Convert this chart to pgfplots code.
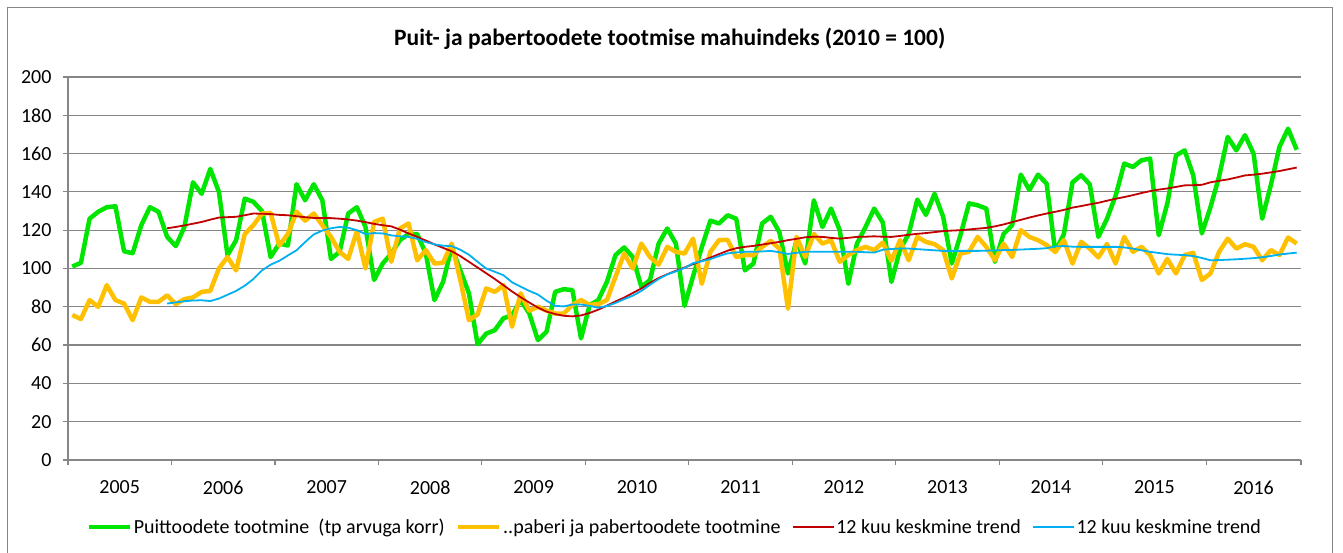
\documentclass[border=0pt]{standalone}
\usepackage{fontspec}
\setmainfont{Carlito}
\usepackage{pgfplots}
\usepackage{pgfplotstable}
\pgfplotsset{compat=1.18}
\definecolor{cgreen}{RGB}{0,230,0}
\definecolor{corange}{RGB}{255,192,0}
\definecolor{cred}{RGB}{192,0,0}
\definecolor{cblue}{RGB}{0,176,240}
\definecolor{cgrid}{RGB}{134,134,134}

\pgfplotstableread{
i green orange
0 101 75.7
1 103 73.6
2 126 83.5
3 129.6 80
4 132 91.3
5 132.5 83.5
6 109 81.7
7 108 73
8 122.6 84.9
9 132 82.6
10 129.6 82.6
11 116.5 86
12 111.7 81.4
13 121.7 84
14 145 84.9
15 139 87.8
16 152 88.3
17 140 100
18 107 106
19 114.8 99
20 136.5 118
21 134.8 122.6
22 130 128.7
23 106 129
24 113 112
25 112 118
26 144 129.6
27 135.6 125
28 144 128.7
29 135.6 122.6
30 105 116.5
31 108.7 108.7
32 128.7 105
33 132 119.5
34 121.7 100
35 94 124.3
36 102.6 126
37 107.8 103.5
38 114.8 120.9
39 118 123.5
40 118 104.3
41 107.8 109.6
42 83.5 102.6
43 93 103
44 111 113
45 99 94
46 87 73
47 60.5 76
48 66 89.6
49 67.8 87.8
50 74 91.3
51 75.6 69.6
52 83.5 87
53 76.5 78
54 62.6 80
55 67 78
56 87.8 76.5
57 89.2 76.5
58 88.7 81
59 63.5 83.5
60 80.9 81
61 83.5 81.4
62 93 83.5
63 107 95.7
64 111 107.8
65 106 100
66 90.4 113
67 94 106
68 113 102
69 120.9 111.3
70 113 108.7
71 80.5 107.8
72 96 115.6
73 111 92
74 125 108.7
75 123.5 114.8
76 127.8 115
77 126 106
78 99 107
79 102.6 107
80 123.5 111.3
81 127 114.4
82 119 110.4
83 97.4 79
84 114.8 116.5
85 102.6 106
86 135.6 118
87 121.7 113
88 131.3 114.8
89 120 103.5
90 92 107
91 113 109.6
92 121.7 111.3
93 131.3 109.6
94 124 113.5
95 93 104
96 110 114.8
97 118 104.3
98 136 116.5
99 128 113.9
100 139 112.7
101 127 109.6
102 102.6 94.8
103 117.4 107.8
104 134 108.7
105 133 116.5
106 131.3 111.3
107 103.5 104.3
108 118 113
109 122.6 106
110 149 120
111 141 116.5
112 149 114.8
113 144.3 112.2
114 108.7 108.7
115 118 114.8
116 145 102.6
117 148.7 113.9
118 144 110.4
119 116.5 105.8
120 126 112.8
121 138 102.6
122 154.8 116.5
123 153 108.7
124 156.5 111.3
125 157.4 107
126 117.4 97.4
127 134 105
128 159 97.4
129 161.7 107
130 148.7 108.2
131 118.3 94
132 132 97.4
133 148 108.7
134 168.7 115.6
135 161.7 110.4
136 169.6 112.7
137 160 111.3
138 126 104.3
139 143.5 109.6
140 163.5 107
141 173 116.2
142 162 113
}\mainTable

\pgfplotstableread{
i red blue
11 121 81.7
12 121.7 82.3
13 122.5 82.9
14 123.4 83.3
15 124.3 83.4
16 125.5 83
17 126.6 84.3
18 126.8 86.3
19 127 88.3
20 127.8 91
21 128.7 94.5
22 128.6 99
23 128.4 102
24 128 104
25 127.8 106.8
26 127.3 109.5
27 126.8 113.8
28 126.4 117.8
29 126.3 119.8
30 126.3 121
31 126 121.7
32 125.6 121.3
33 125 120
34 124.2 118
35 123.3 118.5
36 122.6 118.3
37 122 117.3
38 120.3 116.8
39 118.3 116.5
40 116.5 115.5
41 114.6 113.8
42 112.6 112.6
43 110.8 111.9
44 109 111.7
45 106.5 109.8
46 103.5 107.2
47 100.5 103.5
48 97.5 100
49 94.5 98.3
50 91.3 96.5
51 88 92.8
52 85 90.5
53 82.2 88.3
54 79.6 86.4
55 77.5 83.2
56 76.2 80.5
57 75.3 80.2
58 75 81.2
59 75.5 81.2
60 76.8 80.5
61 78.5 79.5
62 80.6 80.4
63 82.8 82
64 84.8 84
65 87.2 85.8
66 89.6 88.3
67 92.5 91.5
68 95 94.5
69 97 96.9
70 98.8 98.5
71 100.5 100.3
72 102.3 102.8
73 104 103.8
74 105.7 104.9
75 107.5 106.5
76 109.3 107.9
77 110.6 108.4
78 111.3 108.7
79 111.8 108.7
80 112.5 108.9
81 113.2 109.2
82 113.9 108.5
83 114.8 107.6
84 115.5 108.2
85 116.3 108.7
86 116.6 108.7
87 116.5 108.7
88 116 108.7
89 115.6 108.7
90 116 108.7
91 116.5 108.7
92 116.6 108.5
93 116.8 108.3
94 116.6 109.8
95 116.5 110.2
96 117 110.4
97 117.6 110.4
98 118.1 110.1
99 118.5 109.8
100 119 109.5
101 119.5 109.2
102 119.8 109.2
103 120 109.2
104 120.4 109.2
105 120.8 109.2
106 121.2 109.3
107 122 109.5
108 123 109.6
109 124.2 109.7
110 125.4 109.9
111 126.6 110.1
112 127.7 110.3
113 128.7 110.6
114 129.6 111.6
115 130.6 111.7
116 131.8 111.4
117 132.6 111.3
118 133.5 111.3
119 134.3 111.3
120 135.4 111.3
121 136.4 111.3
122 137.3 111
123 138.3 110.4
124 139.4 109.5
125 140.4 108.7
126 141.2 108.1
127 141.8 107.5
128 142.6 107.2
129 143.4 107
130 143.5 106.5
131 143.7 105.5
132 145 104.3
133 145.8 104.4
134 146.5 104.6
135 147.5 104.8
136 148.6 105.1
137 149 105.4
138 149.5 105.9
139 150.2 106.5
140 150.9 107.3
141 151.8 107.8
142 152.7 108.3
}\trendTable

\begin{document}
\begin{tikzpicture}
\useasboundingbox (0,0) rectangle (1343bp,553bp);
\draw[cgrid, line width=1bp] (7bp,-5bp) rectangle (1332bp,545bp);
\begin{axis}[
  at={(68bp,93bp)}, anchor=south west,
  scale only axis, width=1233bp, height=383bp,
  xmin=-0.5, xmax=142.5, ymin=0, ymax=200,
  axis x line*=bottom, axis y line*=left,
  axis line style={cgrid, line width=1.2bp, -},
  ytick={0,20,...,200},
  ymajorgrids, major grid style={cgrid, line width=1.2bp},
  xtick={-0.5,11.5,23.5,35.5,47.5,59.5,71.5,83.5,95.5,107.5,119.5,131.5,142.5},
  xticklabels={2005,2006,2007,2008,2009,2010,2011,2012,2013,2014,2015,2016},
  x tick label as interval,
  tick align=outside, major tick length=5bp,
  tick style={cgrid, line width=1.2bp},
  /pgf/number format/assume math mode=true,
  tick label style={font=\fontsize{20bp}{24bp}\selectfont, text=black},
  xticklabel style={yshift=-12bp},
  yticklabel style={xshift=-8bp},
  title={\textbf{Puit- ja pabertoodete tootmise mahuindeks (2010 = 100)}},
  title style={at={(0.488,1)}, anchor=base, yshift=26bp, font=\fontsize{23.5bp}{28bp}\selectfont},
  legend columns=4,
  legend style={at={(0.492,-0.175)}, anchor=center, draw=none, fill=none,
    font=\fontsize{20bp}{24bp}\selectfont,
    /tikz/every even column/.append style={column sep=10bp},
    nodes={inner xsep=1.5bp}},
  legend image code/.code={\draw[#1] (0bp,0bp) -- (41bp,0bp);},
]
\addplot[cgreen, line width=4.5bp, line join=round] table[x=i, y=green] {\mainTable};
\addlegendentry{Puittoodete tootmine\ \ (tp arvuga korr)}
\addplot[corange, line width=4.5bp, line join=round] table[x=i, y=orange] {\mainTable};
\addlegendentry{..paberi ja pabertoodete tootmine}
\addplot[cred, line width=1.8bp, line join=round] table[x=i, y=red] {\trendTable};
\addlegendentry{12 kuu keskmine trend}
\addplot[cblue, line width=1.8bp, line join=round] table[x=i, y=blue] {\trendTable};
\addlegendentry{12 kuu keskmine trend}
\end{axis}
\end{tikzpicture}
\end{document}
